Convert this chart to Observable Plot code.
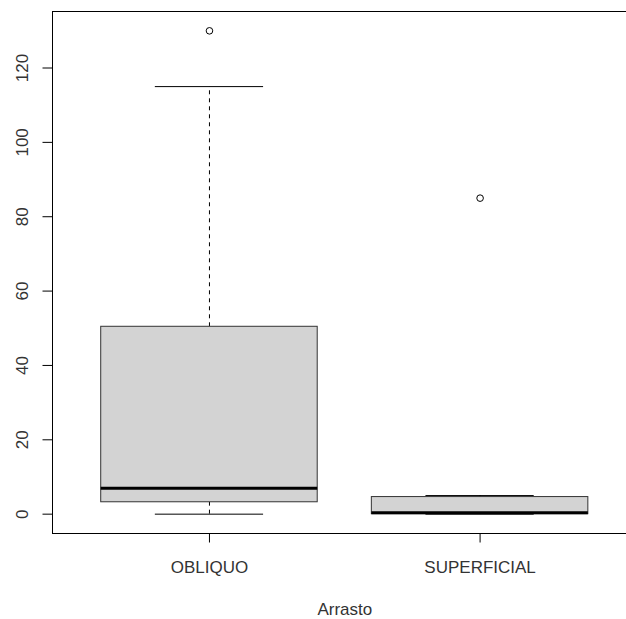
<!DOCTYPE html>
<html>
<head>
<meta charset="utf-8">
<script src="https://cdn.jsdelivr.net/npm/d3@7"></script>
<script src="https://cdn.jsdelivr.net/npm/@observablehq/plot@0.6"></script>
<style>
  html, body { margin: 0; padding: 0; background: #fff; overflow: hidden; }
  #chart svg { display: block; }
</style>
</head>
<body>
<div id="chart"></div>
<script>
// ---- data ----
const categories   = ["OBLIQUO", "SUPERFICIAL"];
const positions    = [1, 2];
const lowerWhisker = [0, 0];
const q1           = [3.2, 0];
const median       = [7, 0.4];
const q3           = [50.4, 4.6];
const upperWhisker = [115, 5];
const outlierGroup = [1, 2];
const outlierValue = [130, 85];
const yTicks       = [0, 20, 40, 60, 80, 100, 120];
const xTitle       = "Arrasto";

const boxes = categories.map((c, i) => ({
  cat: c, pos: positions[i], lo: lowerWhisker[i], q1: q1[i],
  med: median[i], q3: q3[i], hi: upperWhisker[i]
}));
const outliers = outlierGroup.map((g, i) => ({pos: g, value: outlierValue[i]}));

const boxHalf = 0.4, capHalf = 0.2;
const yMin = -5.2, yMax = 135.2, xMin = 0.42;
const font = "'Liberation Sans', Arial, sans-serif";
const fs = 17;

const chart = Plot.plot({
  width: 626,
  height: 619,
  marginLeft: 52,
  marginRight: 0,
  marginTop: 11,
  marginBottom: 86,
  style: {fontFamily: font, fontSize: fs + "px", background: "#fff", color: "#222"},
  x: {type: "linear", domain: [xMin, 2.541], axis: null},
  y: {type: "linear", domain: [yMin, yMax], axis: null},
  marks: [
    // whiskers (dashed)
    Plot.ruleX(boxes, {x: "pos", y1: "q3", y2: "hi", stroke: "#000", strokeWidth: 1, strokeDasharray: "4,4"}),
    Plot.ruleX(boxes, {x: "pos", y1: "lo", y2: "q1", stroke: "#000", strokeWidth: 1, strokeDasharray: "4,4"}),
    // caps
    Plot.ruleY(boxes, {y: "hi", x1: d => d.pos - capHalf, x2: d => d.pos + capHalf, stroke: "#000", strokeWidth: 1}),
    Plot.ruleY(boxes, {y: "lo", x1: d => d.pos - capHalf, x2: d => d.pos + capHalf, stroke: "#000", strokeWidth: 1}),
    // boxes
    Plot.rect(boxes, {x1: d => d.pos - boxHalf, x2: d => d.pos + boxHalf, y1: "q1", y2: "q3", fill: "#d3d3d3", stroke: "#333", strokeWidth: 1}),
    // medians
    Plot.ruleY(boxes, {y: "med", x1: d => d.pos - boxHalf, x2: d => d.pos + boxHalf, stroke: "#000", strokeWidth: 3}),
    // outliers
    Plot.dot(outliers, {x: "pos", y: "value", r: 3.3, stroke: "#000", fill: "none", strokeWidth: 1}),
    // frame (left, top, bottom; right edge falls outside the picture)
    Plot.ruleX([xMin], {y1: yMin, y2: yMax, stroke: "#000", strokeWidth: 1}),
    Plot.ruleY([yMin, yMax], {stroke: "#000", strokeWidth: 1}),
    // y axis ticks and labels
    Plot.axisY({ticks: yTicks, tickSize: 9.5, tickFormat: () => "", anchor: "left", label: null, stroke: "#000"}),
    Plot.text(yTicks, {y: d => d, text: d => String(d), frameAnchor: "left", dx: -37, rotate: -90, lineAnchor: "top", textAnchor: "middle", fill: "#333", fontSize: fs}),
    // x axis ticks and labels
    Plot.axisX({ticks: positions, tickSize: 9.5, tickFormat: () => "", anchor: "bottom", label: null, stroke: "#000"}),
    Plot.text(categories, {x: (d, i) => positions[i], text: d => d, frameAnchor: "bottom", dy: 27, lineAnchor: "top", fill: "#333", fontSize: fs}),
    Plot.text([xTitle], {x: d3.mean(positions), text: d => d, frameAnchor: "bottom", dy: 69, lineAnchor: "top", fill: "#333", fontSize: fs})
  ]
});
document.getElementById("chart").appendChild(chart);
</script>
</body>
</html>
